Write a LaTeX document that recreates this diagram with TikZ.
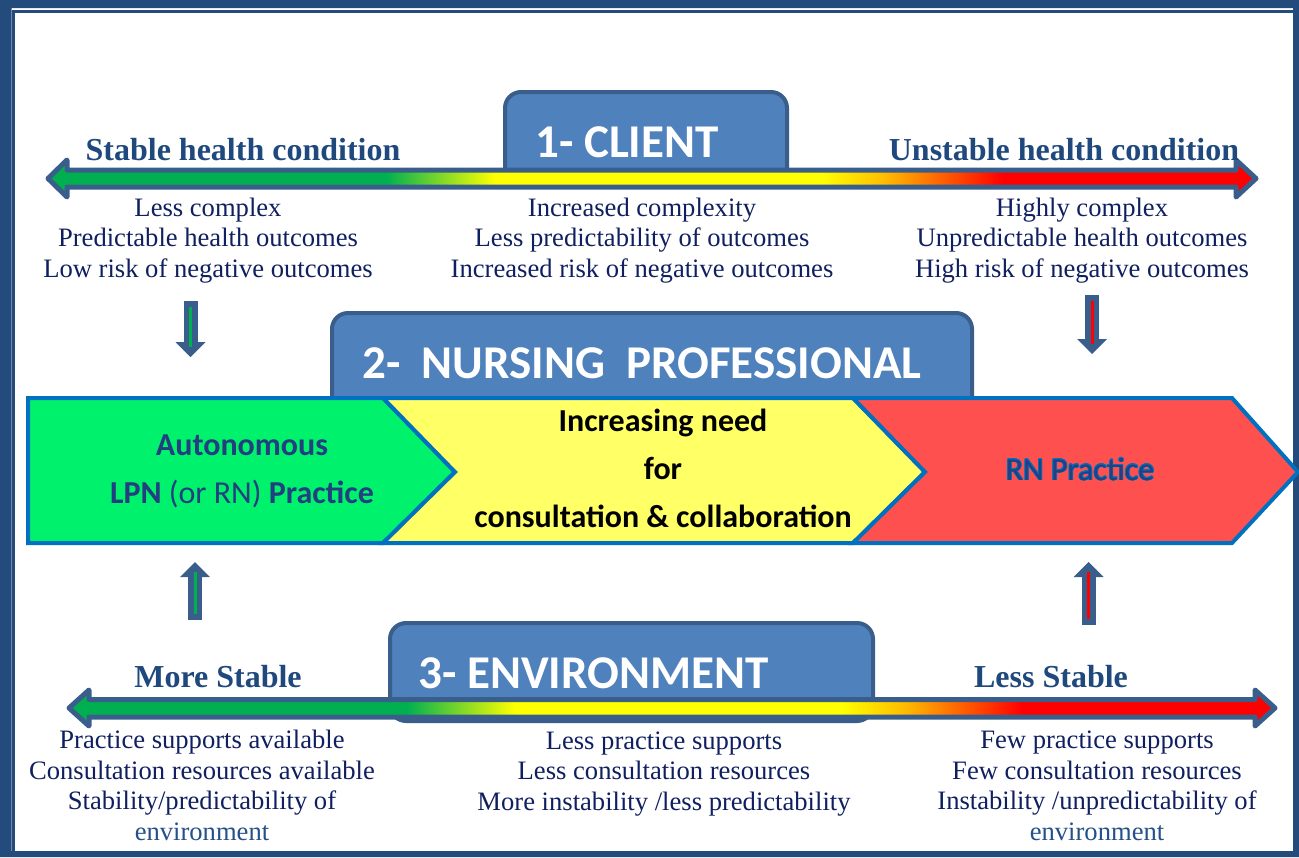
\documentclass[tikz,border=0pt]{standalone}
\usepackage{fontspec}
\setmainfont{Liberation Serif}
\newfontfamily\carlito{Carlito}
\usepackage{contour}
\usetikzlibrary{calc}
\usetikzlibrary{arrows.meta}
\definecolor{frameblue}{HTML}{234B7C}
\definecolor{lineblue}{HTML}{3A5E8C}
\definecolor{tabfill}{HTML}{4F81BD}
\definecolor{chevline}{HTML}{0070C0}
\definecolor{chevgreen}{HTML}{00F26D}
\definecolor{chevyellow}{HTML}{FFFF66}
\definecolor{chevred}{HTML}{FF5050}
\definecolor{safegreen}{HTML}{00B050}
\definecolor{midyellow}{HTML}{FFFF00}
\definecolor{warnorange}{HTML}{FFC000}
\definecolor{riskred}{HTML}{FF0000}
\definecolor{headblue}{HTML}{1F497D}
\definecolor{bodynavy}{HTML}{0F1F5F}
\definecolor{envblue}{HTML}{25508A}
\definecolor{chevtextblue}{HTML}{233F80}
\pgfdeclarehorizontalshading{riskbar}{100bp}{color(0bp)=(safegreen); color(39bp)=(safegreen); color(43.5bp)=(midyellow); color(57bp)=(midyellow); color(59.5bp)=(warnorange); color(64.5bp)=(riskred); color(100bp)=(riskred)}
\contourlength{0.35pt}
\tikzset{
	tabbox/.style={
		draw=lineblue, line width=2pt,
		fill=tabfill,
		rounded corners=8pt},
	tabtext/.style={
		anchor=base west, inner sep=0pt,
		text=white,
		font=\carlito\bfseries\fontsize{23.5}{28}\selectfont},
	riskarrow/.style={
		shading=riskbar,
		draw=lineblue, line width=2.5pt, line join=round},
	chevron/.style={draw=chevline, line width=2pt, line join=miter},
	chevtext/.style={
		anchor=base, align=center, inner sep=0pt,
		text=chevtextblue,
		font=\carlito\fontsize{16}{24}\selectfont},
	headtext/.style={
		anchor=base, inner sep=0pt,
		text=headblue,
		font=\bfseries\fontsize{16}{19}\selectfont},
	bodytext/.style={
		anchor=base, align=center, inner sep=0pt,
		text=bodynavy,
		font=\fontsize{13.3}{15.2}\selectfont},
	blockarrow/.style={
		draw=lineblue, line width=7pt,
		-{Triangle[width=15pt,length=7.5pt,line width=0pt 0]}},
	stripe/.style={draw=#1, line width=1.5pt, shorten <=3pt},
}
\begin{document}
\begin{tikzpicture}[x=0.5pt,y=-0.5pt]
	\useasboundingbox (0,0) rectangle (1299,857);
	% frame
	\fill[frameblue, even odd rule] (0,0) rectangle (1299,857) (11.5,8) rectangle (1293,851);
	\draw[frameblue, line width=1.25pt] (13.5,851) -- (13.5,11.3) -- (1293,11.3);
	
	% 2- nursing professional
	\draw[tabbox] (332,313) rectangle (972,420);
	\node[tabtext] (nursetab) at (362,378) {2-\ \ NURSING\ \ PROFESSIONAL};
	\draw[chevron, fill=chevgreen] (28,398) -- (383,398) -- (455,472) -- (383,543) -- (28,543) -- cycle;
	\draw[chevron, fill=chevyellow] (383,398) -- (853,398) -- (925,472) -- (853,543) -- (383,543) -- (455,472) -- cycle;
	\draw[chevron, fill=chevred] (853,398) -- (1232,398) -- (1298,472) -- (1232,543) -- (853,543) -- (925,472) -- cycle;
	\node[chevtext] (lpntxt) at (242,503) {\bfseries Autonomous\\\bfseries LPN {\mdseries (or RN)} Practice};
	\node[chevtext, text=black] (needtxt) at (663,527) {\bfseries Increasing need\\\bfseries for\\\bfseries consultation \& collaboration};
	\node[chevtext] (rntxt) at (1080,480) {\contour{chevline}{RN Practice}};
	
	% 1- client
	\draw[tabbox] (505,92) rectangle (787,185);
	\node[tabtext] (clienttab) at (535,157) {1- CLIENT};
	\shadedraw[riskarrow] (48,178.5) -- (67,160) -- (67,170) -- (1236,170) -- (1236,160) -- (1256,178.5) -- (1236,197) -- (1236,187) -- (67,187) -- (67,197) -- cycle;
	\node[headtext] (stablehdr) at (243,160) {Stable health condition};
	\node[headtext] (unstablehdr) at (1064,160) {Unstable health condition};
	\node[bodytext] (lowtxt) at (208,277) {Less complex\\Predictable health outcomes\\Low risk of negative outcomes};
	\node[bodytext] (midtxt) at (642,277) {Increased complexity\\Less predictability of outcomes\\Increased risk of negative outcomes};
	\node[bodytext] (hightxt) at (1082,277) {Highly complex\\Unpredictable health outcomes\\High risk of negative outcomes};
	
	% 3- environment
	\draw[tabbox] (390,623) rectangle (873,721);
	\node[tabtext] (envtab) at (418,688) {3- ENVIRONMENT};
	\shadedraw[riskarrow] (69,708) -- (89,690) -- (89,699.5) -- (1255,699.5) -- (1255,690) -- (1275,708) -- (1255,726) -- (1255,717) -- (89,717) -- (89,726) -- cycle;
	\node[headtext] (morehdr) at (218,687) {More Stable};
	\node[headtext] (lesshdr) at (1051,687) {Less Stable};
	\node[bodytext] (moretxt) at (202,840) {Practice supports available\\Consultation resources available\\Stability/predictability of\\\textcolor{envblue}{environment}};
	\node[bodytext] (envmidtxt) at (664,810) {Less practice supports\\Less consultation resources\\More instability /less predictability};
	\node[bodytext] (fewtxt) at (1097,840) {Few practice supports\\Few consultation resources\\Instability /unpredictability of\\\textcolor{envblue}{environment}};
	
	% small arrows
	\coordinate (dnLa) at (190.5,301);
	\coordinate (dnLb) at (190.5,357);
	\coordinate (dnRa) at (1092,295);
	\coordinate (dnRb) at (1092,354);
	\coordinate (upLa) at (195,620);
	\coordinate (upLb) at (195,562);
	\coordinate (upRa) at (1088.5,625);
	\coordinate (upRb) at (1088.5,562);
	\draw[blockarrow] (dnLa) -- (dnLb);
	\draw[stripe=safegreen] (dnLa) -- ($(dnLb)+(0,-10)$);
	\draw[blockarrow] (dnRa) -- (dnRb);
	\draw[stripe=riskred] (dnRa) -- ($(dnRb)+(0,-10)$);
	\draw[blockarrow] (upLa) -- (upLb);
	\draw[stripe=safegreen] (upLa) -- ($(upLb)+(0,10)$);
	\draw[blockarrow] (upRa) -- (upRb);
	\draw[stripe=riskred] (upRa) -- ($(upRb)+(0,10)$);
\end{tikzpicture}
\end{document}
